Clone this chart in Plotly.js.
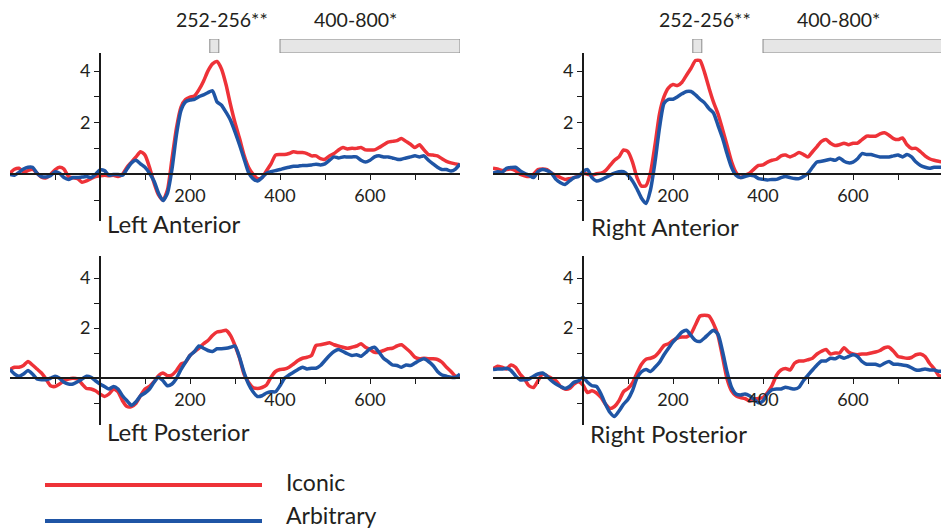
<!DOCTYPE html>
<html><head><meta charset="utf-8">
<script src="https://cdn.plot.ly/plotly-3.0.1.min.js"></script>
<style>html,body{margin:0;padding:0;background:#fff;}#chart{width:941px;height:531px;}</style>
</head><body><div id="chart"></div>
<script>
const timeMs = [-200,-190,-180,-170,-160,-150,-140,-130,-120,-110,-100,-90,-80,-70,-60,-50,-40,-30,-20,-10,
0,10,20,30,40,50,60,70,80,90,100,110,120,130,140,150,160,170,180,190,
200,210,220,230,240,250,260,270,280,290,300,310,320,330,340,350,360,370,380,390,
400,410,420,430,440,450,460,470,480,490,500,510,520,530,540,550,560,570,580,590,
600,610,620,630,640,650,660,670,680,690,700,710,720,730,740,750,760,770,780,790,800];

const leftAntIconic = [0.05,0.2,0.24,0.1,0.15,0.2,0.05,-0.1,-0.13,0,0.18,0.28,0.21,-0.08,-0.13,-0.16,-0.3,-0.25,-0.16,-0.08,
-0.05,-0.03,-0.05,-0.03,-0.08,0.01,0.28,0.48,0.68,0.88,
0.75,0.28,-0.32,-0.79,-0.99,-0.59,0.61,1.81,2.61,2.9,
2.99,3.04,3.28,3.61,4.01,4.28,4.37,4.08,3.48,2.7,
2.0,1.4,0.75,0.28,0.01,-0.16,-0.12,0.15,0.41,0.75,
0.77,0.77,0.81,0.88,0.85,0.85,0.81,0.72,0.72,0.61,
0.59,0.72,0.81,0.95,1.04,0.99,1.01,1.01,1.04,0.95,
0.95,0.95,1.04,1.15,1.25,1.28,1.31,1.39,1.28,1.17,
1.04,1.15,0.95,0.77,0.75,0.72,0.61,0.51,0.45,0.41,0.37];
const leftAntArbitrary = [0,-0.03,0.08,0.21,0.28,0.28,0.05,-0.08,-0.1,-0.05,0.1,0.05,-0.12,-0.19,-0.12,-0.12,-0.1,-0.08,-0.12,0,
0.18,0.15,-0.03,0,0,-0.03,0.21,0.45,0.55,0.41,
0.28,0.05,-0.25,-0.72,-1.01,-0.72,0.21,1.55,2.48,2.81,
2.88,2.91,3.01,3.08,3.17,3.24,2.81,2.68,2.41,2.1,
1.65,1.15,0.61,0.08,-0.16,-0.25,-0.12,0.05,0.11,0.15,
0.19,0.24,0.28,0.32,0.32,0.35,0.35,0.37,0.4,0.37,
0.41,0.55,0.68,0.64,0.68,0.68,0.68,0.68,0.55,0.48,
0.55,0.68,0.72,0.68,0.68,0.64,0.59,0.59,0.64,0.68,
0.72,0.68,0.72,0.55,0.41,0.28,0.19,0.19,0.13,0.21,0.41];

const rightAntIconic = [0.24,0.21,0.15,0.19,0.21,0.15,0.01,-0.05,-0.08,0.01,0.19,0.21,0.19,0.05,-0.03,-0.12,-0.19,-0.16,-0.12,-0.05,
0.05,0.01,-0.03,0.03,0.05,0.15,0.35,0.55,0.68,0.95,
0.88,0.48,-0.12,-0.45,-0.43,0.08,1.15,2.35,3.01,3.35,
3.48,3.44,3.57,3.84,4.11,4.41,4.41,3.95,3.35,2.8,
2.35,1.75,1.13,0.5,0.08,-0.12,-0.03,0.05,0.21,0.35,
0.37,0.48,0.55,0.59,0.72,0.75,0.68,0.75,0.85,0.77,
0.68,0.88,1.08,1.28,1.35,1.21,1.12,1.15,1.21,1.15,
1.21,1.21,1.35,1.48,1.48,1.48,1.57,1.61,1.52,1.39,
1.35,1.41,1.15,1.01,1.01,0.88,0.72,0.61,0.55,0.51,0.48];
const rightAntArbitrary = [0.05,0.11,0.08,0.24,0.27,0.28,0.15,0.05,-0.03,-0.12,0.11,0.19,0.15,0.05,-0.19,-0.32,-0.39,-0.25,-0.12,-0.08,
0.11,0.19,-0.12,-0.25,-0.21,-0.12,-0.03,0.05,0.11,0.11,
-0.03,-0.25,-0.56,-0.92,-1.12,-0.59,0.48,1.81,2.75,2.91,
2.91,3.01,3.12,3.21,3.21,3.08,2.91,2.77,2.55,2.38,
1.9,1.41,0.81,0.28,-0.03,-0.12,-0.08,-0.03,-0.05,-0.16,
-0.19,-0.21,-0.19,-0.19,-0.12,-0.08,-0.12,-0.16,-0.16,-0.08,
0.05,0.28,0.48,0.51,0.55,0.59,0.55,0.64,0.51,0.45,
0.48,0.61,0.81,0.77,0.77,0.72,0.68,0.68,0.68,0.72,
0.75,0.68,0.77,0.68,0.48,0.35,0.28,0.24,0.28,0.28,0.28];

const leftPostIconic = [0.34,0.43,0.43,0.5,0.66,0.52,0.36,0.2,-0.04,-0.31,-0.34,-0.24,-0.11,-0.04,-0.01,-0.04,-0.24,-0.42,-0.44,-0.51,
-0.64,-0.74,-0.64,-0.44,-0.55,-0.91,-1.14,-1.14,-1.01,-0.71,
-0.44,-0.34,-0.15,0.09,0.2,0.09,0.12,0.3,0.56,0.63,
0.9,1.06,1.19,1.37,1.5,1.7,1.84,1.87,1.91,1.7,
1.3,0.8,0.16,-0.17,-0.38,-0.42,-0.38,-0.28,0.03,0.26,
0.34,0.36,0.43,0.56,0.7,0.79,0.83,0.9,1.3,1.33,
1.37,1.41,1.33,1.28,1.23,1.19,1.23,1.28,1.37,1.23,
1.14,1.03,1.03,1.1,1.17,1.19,1.28,1.33,1.19,1.03,
0.83,0.77,0.79,0.77,0.77,0.74,0.63,0.43,0.26,0.07,0.09];
const leftPostArbitrary = [0.34,0.16,0.07,0.16,0.3,0.16,-0.04,-0.07,-0.07,-0.01,0.07,-0.01,-0.17,-0.24,-0.24,-0.15,-0.04,0.07,0.03,-0.11,
-0.24,-0.34,-0.44,-0.34,-0.44,-0.71,-0.91,-1.09,-0.95,-0.71,
-0.6,-0.44,-0.17,0.03,-0.11,-0.31,-0.24,-0.01,0.34,0.63,
0.9,1.06,1.28,1.19,1.1,1.06,1.17,1.17,1.19,1.23,
1.28,0.83,0.23,-0.24,-0.55,-0.74,-0.71,-0.6,-0.55,-0.55,
-0.31,-0.01,0.12,0.23,0.34,0.43,0.36,0.39,0.39,0.5,
0.7,0.9,1.06,1.14,1.06,0.97,0.9,0.93,0.87,1.01,
1.17,1.23,1.03,0.79,0.66,0.52,0.5,0.43,0.52,0.5,
0.6,0.7,0.77,0.66,0.5,0.26,0.12,0.07,0.03,0.03,0.16];

const rightPostIconic = [0.36,0.47,0.43,0.36,0.52,0.43,0.16,-0.04,-0.31,-0.38,-0.11,0.16,0.09,-0.01,-0.11,-0.34,-0.44,-0.42,-0.24,-0.15,
-0.28,-0.58,-0.51,-0.6,-0.78,-1.05,-1.22,-1.14,-0.91,-0.55,
-0.42,-0.2,0.2,0.55,0.75,0.79,0.87,1.06,1.3,1.37,
1.5,1.6,1.64,1.64,1.77,2.13,2.48,2.51,2.48,2.17,
1.7,0.85,-0.03,-0.51,-0.71,-0.78,-0.82,-0.92,-0.85,-0.82,
-0.78,-0.58,-0.3,0.11,0.32,0.38,0.32,0.59,0.68,0.68,
0.73,0.79,0.96,1.07,1.14,0.96,1.0,1.0,1.21,1.04,
0.96,0.93,0.96,0.96,1.0,1.04,1.1,1.21,1.23,1.07,
0.86,0.82,0.79,0.82,0.93,0.96,0.86,0.59,0.38,0.11,0.05];
const rightPostArbitrary = [0.34,0.36,0.36,0.39,0.3,0.09,-0.07,-0.07,-0.04,0.07,0.16,0.2,0.07,-0.11,-0.24,-0.34,-0.42,-0.34,-0.17,-0.11,
0.03,-0.17,-0.31,-0.34,-0.64,-1.05,-1.38,-1.54,-1.32,-1.05,
-0.85,-0.5,0.0,0.25,0.34,0.26,0.43,0.63,0.93,1.19,
1.44,1.64,1.84,1.91,1.7,1.5,1.46,1.6,1.77,1.91,
1.75,1.07,0.25,-0.37,-0.64,-0.68,-0.64,-0.71,-0.85,-0.99,
-0.92,-0.64,-0.47,-0.44,-0.44,-0.37,-0.41,-0.44,-0.37,-0.1,
0.11,0.32,0.52,0.68,0.68,0.79,0.77,0.86,0.79,0.86,
0.93,0.86,0.66,0.55,0.55,0.55,0.49,0.59,0.66,0.55,
0.55,0.52,0.49,0.41,0.32,0.32,0.36,0.32,0.32,0.27,0.27];

const seriesNames = ['Iconic', 'Arbitrary'];
const panelNames = ['Left Anterior', 'Right Anterior', 'Left Posterior', 'Right Posterior'];
const sigStart = [244, 400];
const sigEnd = [264, 800];
const sigLabels = ['252-256**', '400-800*'];
const sigLabelX = [271, 567];
const xTickVals = [-100, 100, 200, 300, 400, 500, 600, 700];
const xTickText = ['', '', '200', '', '400', '', '600', ''];
const yTickVals = [-1, 1, 2, 3, 4];
const yTickText = ['', '', '2', '', '4'];

const RED = '#ee3238', BLUE = '#1f55a5', AXIS = '#1a1a1a';
const W = 941, H = 531;
const FONT = 'Lato, "Open Sans", sans-serif';
const px2x = p => p / W, px2y = p => (H - p) / H;

const panels = [
  {xa: 'x', ya: 'y', xd: [10, 460], yd: [53, 221], xr: [-200, 800], yr: [-1.8, 4.7], ic: leftAntIconic, ar: leftAntArbitrary, lab: [105, 223], bars: 'y5'},
  {xa: 'x2', ya: 'y2', xd: [493, 941], yd: [53, 221], xr: [-200, 795.5], yr: [-1.8, 4.7], ic: rightAntIconic, ar: rightAntArbitrary, lab: [589, 226], bars: 'y6'},
  {xa: 'x3', ya: 'y3', xd: [10, 460], yd: [256, 425], xr: [-200, 800], yr: [-1.88, 4.88], ic: leftPostIconic, ar: leftPostArbitrary, lab: [105, 431]},
  {xa: 'x4', ya: 'y4', xd: [493, 941], yd: [256, 425], xr: [-200, 795.5], yr: [-1.88, 4.88], ic: rightPostIconic, ar: rightPostArbitrary, lab: [588, 433]}
];

const traces = [];
const layout = {
  width: W, height: H, margin: {l: 0, r: 0, t: 0, b: 0},
  paper_bgcolor: '#fff', plot_bgcolor: 'rgba(0,0,0,0)', showlegend: false,
  font: {family: FONT, color: '#231f20'},
  annotations: [], shapes: []
};

panels.forEach((p, i) => {
  const xKey = 'xaxis' + (i ? i + 1 : '');
  const yKey = 'yaxis' + (i ? i + 1 : '');
  const xdom = [px2x(p.xd[0]), px2x(p.xd[1])];
  const ydom = [px2y(p.yd[1]), px2y(p.yd[0])];
  const yZeroPos = ydom[0] + (0 - p.yr[0]) / (p.yr[1] - p.yr[0]) * (ydom[1] - ydom[0]);
  const xZeroPos = xdom[0] + (0 - p.xr[0]) / (p.xr[1] - p.xr[0]) * (xdom[1] - xdom[0]);
  layout[xKey] = {
    domain: xdom, range: p.xr, anchor: 'free', position: yZeroPos,
    showgrid: false, zeroline: false, showline: true, linecolor: AXIS, linewidth: 2,
    ticks: 'outside', ticklen: 5, tickwidth: 1, tickcolor: AXIS,
    tickmode: 'array', tickvals: xTickVals, ticktext: xTickText,
    tickfont: {size: 18, color: '#231f20', family: FONT}, fixedrange: true
  };
  layout[yKey] = {
    domain: ydom, range: p.yr, anchor: 'free', position: xZeroPos,
    showgrid: false, zeroline: false, showline: true, linecolor: AXIS, linewidth: 2,
    ticks: 'outside', ticklen: 5, tickwidth: 1, tickcolor: AXIS,
    tickmode: 'array', tickvals: yTickVals, ticktext: yTickText,
    tickfont: {size: 18, color: '#231f20', family: FONT}, fixedrange: true
  };
  traces.push({x: timeMs, y: p.ic, xaxis: p.xa, yaxis: p.ya, type: 'scatter', mode: 'lines', name: seriesNames[0],
    line: {color: RED, width: 3.5, shape: 'spline', smoothing: 0.6}, hoverinfo: 'skip'});
  traces.push({x: timeMs, y: p.ar, xaxis: p.xa, yaxis: p.ya, type: 'scatter', mode: 'lines', name: seriesNames[1],
    line: {color: BLUE, width: 3.5, shape: 'spline', smoothing: 0.6}, hoverinfo: 'skip'});
  layout.annotations.push({xref: 'paper', yref: 'paper', x: px2x(p.lab[0]), y: px2y(p.lab[1]),
    xanchor: 'left', yanchor: 'middle', showarrow: false, text: panelNames[i],
    font: {size: 24, color: '#231f20', family: FONT}});
  if (p.bars) {
    const bKey = 'yaxis' + p.bars.slice(1);
    layout[bKey] = {domain: [px2y(53), px2y(39)], range: [-0.5, 0.5], visible: false, fixedrange: true, anchor: p.xa};
    traces.push({type: 'bar', orientation: 'h', xaxis: p.xa, yaxis: p.bars,
      y: sigStart.map(() => 0), base: sigStart, x: sigStart.map((s, k) => sigEnd[k] - s), width: 1,
      marker: {color: '#e6e6e6', line: {color: '#8a8a8a', width: 1}}, hoverinfo: 'skip', cliponaxis: false});
    sigLabels.forEach((s, k) => layout.annotations.push({xref: p.xa, yref: 'paper', x: sigLabelX[k], y: px2y(20),
      xanchor: 'center', yanchor: 'middle', showarrow: false, text: s,
      font: {size: 19.5, color: '#231f20', family: FONT}}));
  }
});

// legend key
const legendY = [485, 521];
const legendTextY = [482, 515];
const legendColors = [RED, BLUE];
seriesNames.forEach((s, k) => {
  layout.shapes.push({type: 'line', xref: 'paper', yref: 'paper', x0: px2x(45), x1: px2x(262),
    y0: px2y(legendY[k]), y1: px2y(legendY[k]), line: {color: legendColors[k], width: 4}});
  layout.annotations.push({xref: 'paper', yref: 'paper', x: px2x(284), y: px2y(legendTextY[k]),
    xanchor: 'left', yanchor: 'middle', showarrow: false, text: s,
    font: {size: 23, color: '#231f20', family: FONT}});
});

Plotly.newPlot('chart', traces, layout, {staticPlot: true, displayModeBar: false});
</script>
</body></html>
